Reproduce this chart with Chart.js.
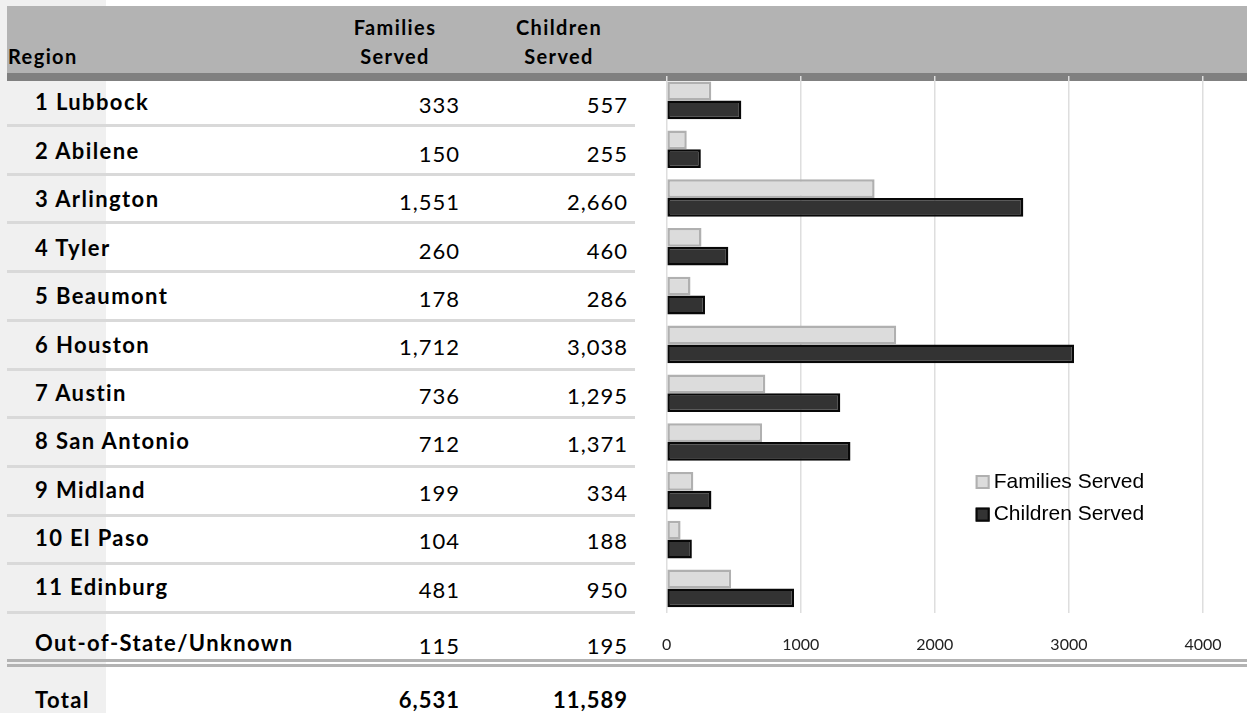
<!DOCTYPE html>
<html>
<head>
<meta charset="utf-8">
<script src="https://cdn.jsdelivr.net/npm/chart.js@4.4.1/dist/chart.umd.min.js"></script>
<style>
  body { margin: 0; width: 1247px; height: 713px; overflow: hidden; background: #fff; position: relative; font-family: Lato, "Noto Sans", sans-serif; color: #000; }
  .strip { position: absolute; left: 0; top: 0; width: 106px; height: 713px; background: #f0f0f0; }
  .head { position: absolute; left: 7px; top: 6px; width: 1240px; height: 67px; background: #b3b3b3; }
  .band { position: absolute; left: 7px; top: 73px; width: 1240px; height: 8px; background: #808080; }
  .sep { position: absolute; left: 7px; width: 628px; height: 3px; background: #d9d9d9; }
  .dbl { position: absolute; left: 7px; width: 1240px; height: 3px; background: #b3b3b3; }
  .txt { position: absolute; height: 30px; line-height: 30px; white-space: nowrap; }
  .lbl { left: 35px; font-weight: bold; font-size: 22px; letter-spacing: 1.4px; }
  .num { font-size: 22px; text-align: right; letter-spacing: 1px; }
  .tot { font-weight: bold; }
  .fam { left: 330px; width: 130px; }
  .chi { left: 490px; width: 138px; }
  .hd { font-weight: bold; font-size: 20px; text-align: center; letter-spacing: 1.4px; }
  #wrap { position: absolute; left: 640px; top: 70px; z-index: 2; }
</style>
</head>
<body>
<div class="strip"></div>
<div class="head"></div>
<div class="band"></div>
<div id="table"></div>
<div id="wrap"><canvas id="barChart" width="607" height="606"></canvas></div>

<script>
// table rows (the last one has no bar in the chart)
const regions = ['1 Lubbock', '2 Abilene', '3 Arlington', '4 Tyler', '5 Beaumont', '6 Houston',
                 '7 Austin', '8 San Antonio', '9 Midland', '10 El Paso', '11 Edinburg', 'Out-of-State/Unknown'];
const familiesServed = [333, 150, 1551, 260, 178, 1712, 736, 712, 199, 104, 481, 115];
const childrenServed = [557, 255, 2660, 460, 286, 3038, 1295, 1371, 334, 188, 950, 195];
const totals = [6531, 11589];
const xTicks = [0, 1000, 2000, 3000, 4000];
const barRows = 11;

const fmt = v => v.toLocaleString('en-US');
const table = document.getElementById('table');

function addText(cls, text, top, left) {
    const d = document.createElement('div');
    d.className = 'txt ' + cls;
    d.textContent = text;
    d.style.top = top + 'px';
    if (left !== undefined) d.style.left = left + 'px';
    table.appendChild(d);
    return d;
}

// header
addText('hd', 'Region', 64 - 23, 8).style.textAlign = 'left';
addText('hd fam', 'Families', 35 - 23);
addText('hd fam', 'Served', 64 - 23);
addText('hd chi', 'Children', 35 - 23);
addText('hd chi', 'Served', 64 - 23);

regions.forEach((r, i) => {
    const base = i < 11 ? 110.7 + 48.45 * i : 651;
    addText('lbl', r, base - 23.4);
    addText('num fam', fmt(familiesServed[i]), base + 3 - 23.5);
    addText('num chi', fmt(childrenServed[i]), base + 3 - 23.5);
    if (i < 11) {
        const s = document.createElement('div');
        s.className = 'sep';
        s.style.top = (124 + 48.7 * i) + 'px';
        table.appendChild(s);
    }
});
[659, 664].forEach(y => {
    const s = document.createElement('div');
    s.className = 'dbl';
    s.style.top = y + 'px';
    table.appendChild(s);
});
addText('lbl', 'Total', 708 - 23.4);
addText('num tot fam', fmt(totals[0]), 708 - 23.5);
addText('num tot chi', fmt(totals[1]), 708 - 23.5);

// legend drawn inside the plot area
const innerLegend = {
    id: 'innerLegend',
    afterDatasetsDraw(chart) {
        const { ctx, chartArea } = chart;
        ctx.save();
        ctx.font = '21px "Liberation Sans", Arial, sans-serif';
        ctx.textBaseline = 'middle';
        chart.data.datasets.forEach((ds, i) => {
            const x = chartArea.left + 309;
            const y = chartArea.top + 405 + i * 32.6;
            ctx.fillStyle = ds.backgroundColor;
            ctx.fillRect(x, y - 6, 14, 14);
            ctx.strokeStyle = ds.borderColor;
            ctx.lineWidth = 2;
            ctx.strokeRect(x + 1, y - 5, 12, 12);
            ctx.fillStyle = '#000';
            ctx.fillText(ds.label, x + 18, y + 1);
        });
        ctx.restore();
    }
};

const barChart = document.getElementById('barChart');

new Chart(barChart, {
    type: 'bar',
    data: {
        labels: regions.slice(0, barRows),
        datasets: [
            {
                label: 'Families Served',
                data: familiesServed.slice(0, barRows),
                backgroundColor: '#dcdcdc',
                borderColor: '#b0b0b0',
                borderWidth: 2.5,
                borderSkipped: false
            },
            {
                label: 'Children Served',
                data: childrenServed.slice(0, barRows),
                backgroundColor: '#333333',
                borderColor: '#080808',
                borderWidth: 2.5,
                borderSkipped: false
            }
        ]
    },
    options: {
        indexAxis: 'y',
        responsive: false,
        animation: false,
        layout: { padding: { top: 6, left: 26, right: 44, bottom: 0 } },
        datasets: { bar: { categoryPercentage: 0.77, barPercentage: 1 } },
        scales: {
            x: {
                min: 0,
                max: 4000,
                afterBuildTicks: axis => { axis.ticks = xTicks.map(v => ({ value: v })); },
                ticks: {
                    padding: 22, color: '#222', maxRotation: 0,
                    font: { family: 'Lato', size: 16 },
                    callback: v => String(v)
                },
                grid: { color: '#dedede', lineWidth: 1.5, drawTicks: false },
                border: { display: false }
            },
            y: { display: false }
        },
        plugins: {
            legend: { display: false },
            tooltip: { enabled: false }
        }
    },
    plugins: [innerLegend]
});
</script>
</body>
</html>
